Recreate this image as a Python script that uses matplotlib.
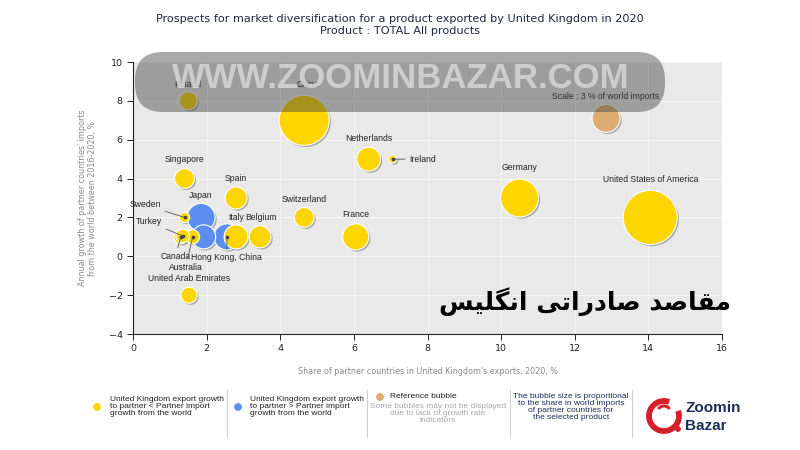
import matplotlib
matplotlib.use("Agg")
import matplotlib.pyplot as plt
import matplotlib.patheffects as pe
from matplotlib.patches import FancyBboxPatch, Circle, Arc
import numpy as np

# ---------------- data ----------------
countries = ["Poland", "China", "Netherlands", "Ireland", "Singapore", "Spain",
             "Germany", "United States of America", "Switzerland", "Sweden",
             "Japan", "Turkey", "Canada", "Australia", "", "Hong Kong, China",
             "Italy", "Belgium", "France", "United Arab Emirates"]
export_share = [1.5, 4.65, 6.4, 7.05, 1.4, 2.8, 10.5, 14.05, 4.65, 1.4,
                1.85, 1.35, 1.3, 1.62, 1.92, 2.55, 2.8, 3.45, 6.05, 1.52]
import_growth = [8.0, 7.0, 5.0, 5.0, 4.0, 3.0, 3.0, 2.0, 2.0, 2.0,
                 2.0, 1.05, 1.0, 1.0, 1.0, 1.0, 1.0, 1.0, 1.0, -2.0]
world_import_share = [1.25, 9.6, 2.2, 0.25, 1.5, 1.85, 5.5, 11.2, 1.5, 0.4,
                      3.0, 0.7, 0.75, 0.75, 2.2, 2.6, 2.2, 1.85, 2.6, 1.0]
group = ["lt", "lt", "lt", "lt", "lt", "lt", "lt", "lt", "lt", "lt",
         "gt", "lt", "lt", "lt", "gt", "gt", "lt", "lt", "lt", "lt"]
ref_x, ref_y, ref_share = 12.85, 7.1, 3.0

xticks = [0, 2, 4, 6, 8, 10, 12, 14, 16]
yticks = [-4, -2, 0, 2, 4, 6, 8, 10]

title = ("Prospects for market diversification for a product exported by United Kingdom in 2020\n"
         "Product : TOTAL All products")
xlabel = "Share of partner countries in United Kingdom's exports, 2020, %"
ylabel = "Annual growth of partner countries' imports\nfrom the world between 2016-2020, %"

# ---------------- style ----------------
YEL = "#fdd500"
BLU = "#5b8ef0"
TAN = "#dcac70"
LBL = "Liberation Sans"
PX_PER_REF = 14.0  # radius in px of the 3% reference bubble


def size_of(share):
    r = PX_PER_REF * np.sqrt(np.asarray(share) / 3.0)
    return (2 * r * 0.72) ** 2


fig = plt.figure(figsize=(8, 4.5), dpi=100)
fig.patch.set_facecolor("white")
ax = fig.add_axes([133 / 800, 1 - 334 / 450, 589 / 800, 272 / 450])
ax.set_facecolor("#e9e9e9")
ax.set_xlim(0, 16)
ax.set_ylim(-4, 10)
ax.set_xticks(xticks)
ax.set_yticks(yticks)
ax.grid(True, color="#f6f6f6", lw=0.8)
ax.set_axisbelow(True)
for s in ["top", "right"]:
    ax.spines[s].set_visible(False)
for s in ["left", "bottom"]:
    ax.spines[s].set_color("#222222")
    ax.spines[s].set_linewidth(0.8)
ax.tick_params(axis="both", labelsize=6.8, colors="#222222", length=4, width=0.7)
ax.set_xlabel(xlabel, fontsize=5.8, color="#8a8a8a", labelpad=10)
ax.set_ylabel(ylabel, fontsize=5.8, color="#8a8a8a", labelpad=8)

shadow = [pe.SimplePatchShadow(offset=(1.2, -1.2), shadow_rgbFace="#808080", alpha=0.6), pe.Normal()]

cols = [YEL if g == "lt" else BLU for g in group]
order = np.argsort(-np.asarray(world_import_share))
xs = np.asarray(export_share)[order]
ys = np.asarray(import_growth)[order]
ss = size_of(np.asarray(world_import_share)[order])
cs = np.asarray(cols)[order]
sc = ax.scatter(xs, ys, s=ss, c=cs, edgecolors="white", linewidths=0.8, zorder=3)
sc.set_path_effects(shadow)
rs = ax.scatter([ref_x], [ref_y], s=size_of([ref_share]), c=TAN, edgecolors="white",
                linewidths=0.8, zorder=3)
rs.set_path_effects(shadow)

# labels: (offset in points)
label_off = {
    "Poland": (0, 12), "China": (3, 26), "Netherlands": (0, 15), "Singapore": (0, 14),
    "Spain": (0, 14), "Germany": (0, 22), "United States of America": (0, 27),
    "Switzerland": (0, 13), "Japan": (0, 16), "Italy": (0, 14), "Belgium": (1, 14),
    "France": (0, 16), "United Arab Emirates": (0, 12),
}
line_off = {
    "Ireland": (12, 0, "left"), "Sweden": (-17, 9, "right"), "Turkey": (-15, 10, "right"),
    "Canada": (-4, -14, "center"), "Australia": (-5, -22, "center"),
    "Hong Kong, China": (0, -15, "center"),
}
for name, x, y in zip(countries, export_share, import_growth):
    if name in label_off:
        dx, dy = label_off[name]
        ax.annotate(name, (x, y), xytext=(dx, dy), textcoords="offset points",
                    ha="center", va="center", fontsize=6.2, family=LBL, color="#222222", zorder=5)
    elif name in line_off:
        dx, dy, ha = line_off[name]
        ax.annotate(name, (x, y), xytext=(dx, dy), textcoords="offset points",
                    ha=ha, va="center", fontsize=6.2, family=LBL, color="#222222", zorder=5,
                    arrowprops=dict(arrowstyle="-", color="#555555", lw=0.6, shrinkA=1, shrinkB=0))
        ax.plot([x], [y], "o", ms=1.6, color="#444444", zorder=5)
ax.annotate("Scale : 3 % of world imports", (ref_x, ref_y), xytext=(0, 16),
            textcoords="offset points", ha="center", va="center", fontsize=6.2,
            family=LBL, color="#222222", zorder=5)

fig.text(0.5, 0.945, title, ha="center", va="center", fontsize=8.1, color="#1e2a3c",
         linespacing=1.2)

# ---------------- overlay (pixel coords) ----------------
ov = fig.add_axes([0, 0, 1, 1], zorder=10)
ov.set_xlim(0, 800)
ov.set_ylim(450, 0)
ov.axis("off")
ov.patch.set_alpha(0)

wm = FancyBboxPatch((135, 52), 530, 60, boxstyle="round,pad=0,rounding_size=28",
                    facecolor=(0.26, 0.26, 0.26), alpha=0.45, edgecolor="none")
ov.add_patch(wm)
ov.text(401, 79, "WWW.ZOOMINBAZAR.COM", ha="center", va="center", fontsize=25,
        fontweight="bold", family=["Liberation Sans"],
        color="#d3d3d3", alpha=0.9)

# Persian caption (manually shaped, visual order)
words = ["\uFEE3\uFED8\uFE8E\uFEBB\uFEAA",
         "\uFEBB\uFE8E\uFEA9\uFEAD\uFE8D\uFE97\uFEF0",
         "\uFE8D\uFEE7\uFB95\uFEE0\uFEF4\uFEB2"]
persian = " ".join(words)[::-1]
ov.text(585, 302, persian, ha="center", va="center", fontsize=18, fontweight="bold",
        family=["DejaVu Sans"], color="black")

# legend area
for xsep in [227, 367, 510, 632]:
    ov.plot([xsep, xsep], [390, 437], color="#cfcfcf", lw=0.8)
ov.add_patch(Circle((97, 407), 3.2, color=YEL))
ov.add_patch(Circle((238, 407), 3.2, color=BLU))
ov.add_patch(Circle((380, 397), 3.2, color=TAN))
ov.text(110, 396, "United Kingdom export growth\nto partner < Partner import\ngrowth from the world",
        ha="left", va="top", fontsize=6.0, family=LBL, color="#222222", linespacing=1.0)
ov.text(250, 396, "United Kingdom export growth\nto partner > Partner import\ngrowth from the world",
        ha="left", va="top", fontsize=6.0, family=LBL, color="#222222", linespacing=1.0)
ov.text(390, 397, "Reference bubble", ha="left", va="center", fontsize=6.0, family=LBL,
        color="#222222")
ov.text(438, 403, "Some bubbles may not be displayed\ndue to lack of growth rate\nindicators",
        ha="center", va="top", fontsize=6.0, family=LBL, color="#a8a8a8", linespacing=1.0)
ov.text(571, 393, "The bubble size is proportional\nto the share in world imports\nof partner countries for\nthe selected product",
        ha="center", va="top", fontsize=6.0, family=LBL, color="#1c2f5a", linespacing=1.0)

# logo
ov.add_patch(Arc((664, 416), 30, 30, theta1=-20, theta2=290, lw=4.2, color="#d4202a"))
ov.add_patch(Arc((664, 411), 12, 10, theta1=200, theta2=340, lw=2.2, color="#d4202a"))
ov.add_patch(Circle((678, 429), 2.2, color="#d4202a"))
ov.text(685, 408, "Zoomin", ha="left", va="center", fontsize=11, fontweight="bold",
        family=LBL, color="#1c2f5a")
ov.text(685, 426, "Bazar", ha="left", va="center", fontsize=11, fontweight="bold",
        family=LBL, color="#1c2f5a")

fig.savefig("out.png", dpi=100)
